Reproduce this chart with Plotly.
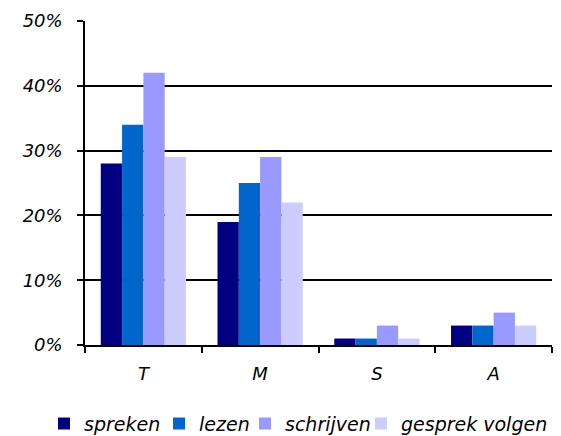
import plotly.graph_objects as go

categories = ["T", "M", "S", "A"]
series_names = ["spreken", "lezen", "schrijven", "gesprek volgen"]
spreken = [28, 19, 1, 3]
lezen = [34, 25, 1, 3]
schrijven = [42, 29, 3, 5]
gesprek_volgen = [29, 22, 1, 3]
colors = ["#000080", "#0066CC", "#9999FF", "#CCCCFF"]
y_ticks = [0, 10, 20, 30, 40, 50]
y_ticklabels = ["0%", "10%", "20%", "30%", "40%", "50%"]

legend_ids = ["legend", "legend2", "legend3", "legend4"]
legend_x = [-0.0878, 0.1585, 0.3426, 0.5910]

fig = go.Figure()
for name, vals, c, lg in zip(series_names, [spreken, lezen, schrijven, gesprek_volgen], colors, legend_ids):
    fig.add_trace(go.Bar(x=categories, y=vals, name=name, legend=lg,
                         marker=dict(color=c, line=dict(width=0))))

tickfont = dict(family="DejaVu Sans, Verdana, sans-serif", size=18, style="italic", color="black")
legfont = dict(family="DejaVu Sans, Verdana, sans-serif", size=19, style="italic", color="black")
layout_legends = {}
for lg, lx in zip(legend_ids, legend_x):
    layout_legends[lg] = dict(orientation="h", x=lx, xanchor="left", y=-0.243, yanchor="middle",
                              font=legfont, itemwidth=30, bgcolor="rgba(0,0,0,0)")

# page body has an 8px default margin; figure size/margins compensate for it
fig.update_layout(
    width=553, height=428,
    margin=dict(l=77, r=9, t=13, b=91, autoexpand=False),
    paper_bgcolor="white", plot_bgcolor="white",
    barmode="group", bargap=0.27, bargroupgap=0,
    showlegend=True,
    xaxis=dict(showline=True, linecolor="black", linewidth=1.5, ticks="outside",
               tickson="boundaries", ticklen=6, tickcolor="black", tickwidth=1.5,
               tickfont=tickfont, showgrid=False, ticklabelstandoff=12),
    yaxis=dict(range=[0, 50], tickvals=y_ticks, ticktext=y_ticklabels, showline=True,
               linecolor="black", linewidth=1.5, ticks="outside", ticklen=6, tickcolor="black",
               tickwidth=1.5, showgrid=True, gridcolor="black", gridwidth=1.5,
               tickfont=tickfont, zeroline=False, ticklabelstandoff=11),
    **layout_legends,
)
fig.write_html("out.html")
